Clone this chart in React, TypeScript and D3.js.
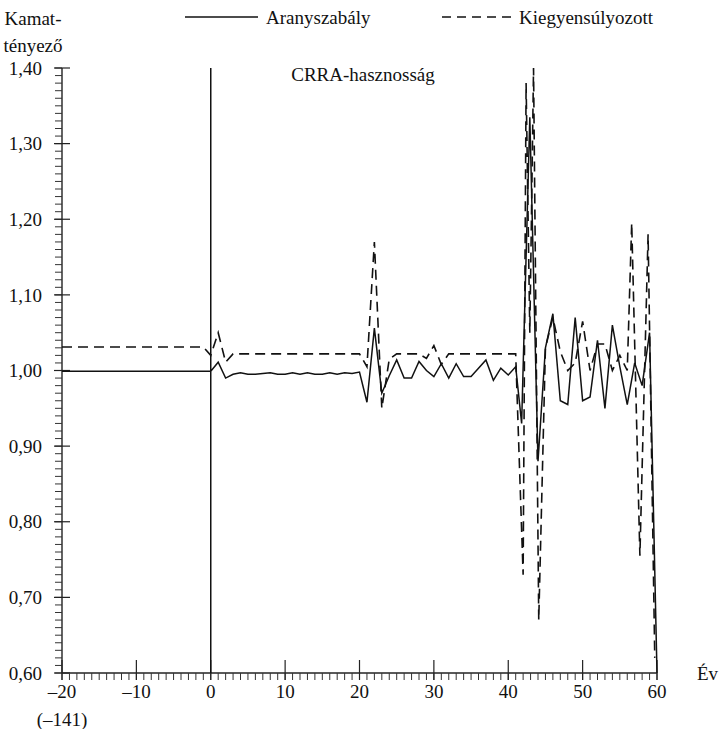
import React from "react";
import * as d3 from "d3";

const W = 725;
const H = 729;

// Aranyszabály (solid)
const solidYears = [
  -20, -1, 0, 0, 0, 0, 1, 2, 3, 4, 5, 6, 7, 8, 9, 10, 11, 12, 13, 14, 15, 16, 17, 18, 19,
  20, 21, 22, 23, 24, 25, 26, 27, 28, 29, 30, 31, 32, 33, 34, 35, 36, 37, 38, 39, 40, 41,
  41.8, 42.9, 44, 45, 46, 47, 48, 49, 50, 51, 52, 53, 54, 55, 56, 57, 58, 59, 60,
];
const solidValues = [
  0.999, 0.999, 0.999, 1.4, 0.6, 0.999, 1.011, 0.99, 0.995, 0.997, 0.995, 0.995, 0.996, 0.997, 0.995,
  0.995, 0.997, 0.995, 0.997, 0.995, 0.995, 0.997, 0.995, 0.997, 0.996,
  0.998, 0.958, 1.056, 0.97, 0.993, 1.014, 0.99, 0.99, 1.012, 1.0, 0.992, 1.009, 0.99, 1.009,
  0.992, 0.992, 1.003, 1.014, 0.987, 1.003, 0.994, 1.005,
  0.93, 1.335, 0.88, 1.03, 1.075, 0.96, 0.955, 1.07, 0.96, 0.965, 1.04, 0.95, 1.06, 1.005,
  0.955, 1.01, 0.98, 1.05, 0.6,
];

// Kiegyensúlyozott (dashed)
const dashedYears = [
  -20, -1, 0, 1, 2, 3, 19, 20, 21, 22, 23, 24, 25, 28, 29, 30, 31, 32, 41,
  42, 42.4, 42.9, 43.4, 44.1, 45, 46, 47, 48, 49, 50, 51, 52, 53, 54, 55, 56,
  56.6, 57.7, 58.8, 59.7,
];
const dashedValues = [
  1.031, 1.031, 1.02, 1.05, 1.011, 1.022, 1.022, 1.022, 1.005, 1.17, 0.95, 1.015, 1.022, 1.022,
  1.016, 1.033, 1.008, 1.022, 1.022,
  0.73, 1.38, 1.05, 1.4, 0.67, 1.03, 1.07, 1.025, 1.0, 1.01, 1.065, 1.0, 1.035, 1.035, 1.0,
  1.02, 1.0, 1.195, 0.755, 1.18, 0.62,
];

const yMajorTicks = [0.6, 0.7, 0.8, 0.9, 1.0, 1.1, 1.2, 1.3, 1.4];
const xMajorTicks = [-20, -10, 0, 10, 20, 30, 40, 50, 60];

const FONT = "'Liberation Serif', 'DejaVu Serif', serif";

export default function App() {
  const left = 62, right = 657, top = 68, bottom = 673;
  const x = d3.scaleLinear().domain([-20, 60]).range([left, right]);
  const y = d3.scaleLinear().domain([0.6, 1.4]).range([bottom, top]);

  const line = d3
    .line<[number, number]>()
    .x((d) => x(d[0]))
    .y((d) => y(d[1]));

  const solidPts = solidYears.map((t, i) => [t, solidValues[i]] as [number, number]);
  const dashedPts = dashedYears.map((t, i) => [t, dashedValues[i]] as [number, number]);

  const yMinor = d3.range(60, 141).map((v) => v / 100);
  const xMinor = d3.range(-20, 61);

  const fmt = (v: number) => v.toFixed(2).replace(".", ",");
  const xfmt = (v: number) => (v < 0 ? "–" + Math.abs(v) : String(v));

  return (
    <svg
      width={W}
      height={H}
      style={{ position: "absolute", left: 0, top: 0, background: "#fff" }}
      fontFamily={FONT}
    >
      <defs>
        <clipPath id="plot">
          <rect x={left} y={top} width={right - left + 1} height={bottom - top} />
        </clipPath>
      </defs>
      <rect x={0} y={0} width={W} height={H} fill="#fff" />

      {/* y axis */}
      <line x1={left} x2={left} y1={top} y2={bottom} stroke="#222" strokeWidth={1.4} />
      {yMinor.map((v) => (
        <line key={"ym" + v} x1={left - 7} x2={left} y1={y(v)} y2={y(v)} stroke="#333" strokeWidth={1} />
      ))}
      {yMajorTicks.map((v) => (
        <g key={"yM" + v}>
          <line x1={left - 8} x2={left + 8} y1={y(v)} y2={y(v)} stroke="#222" strokeWidth={1.2} />
          <text x={42} y={y(v)} dy="0.35em" textAnchor="end" fontSize={19} fill="#111">
            {fmt(v)}
          </text>
        </g>
      ))}

      {/* x axis */}
      <line x1={left} x2={right} y1={bottom} y2={bottom} stroke="#222" strokeWidth={1.4} />
      {xMinor.map((v) => (
        <line key={"xm" + v} x1={x(v)} x2={x(v)} y1={bottom} y2={bottom + 7} stroke="#333" strokeWidth={1} />
      ))}
      {xMajorTicks.map((v) => (
        <g key={"xM" + v}>
          <line x1={x(v)} x2={x(v)} y1={bottom - 13} y2={bottom + 7} stroke="#222" strokeWidth={1.2} />
          <text x={x(v)} y={698} textAnchor="middle" fontSize={19} fill="#111">
            {xfmt(v)}
          </text>
        </g>
      ))}
      <text x={x(-20)} y={726} textAnchor="middle" fontSize={19} fill="#111">
        (–141)
      </text>
      <text x={697} y={680} fontSize={19} fill="#111">
        Év
      </text>

      {/* y title */}
      <text x={33} y={25} textAnchor="middle" fontSize={19} fill="#111">
        Kamat-
      </text>
      <text x={33} y={52} textAnchor="middle" fontSize={19} fill="#111">
        tényező
      </text>

      {/* legend */}
      <line x1={185} x2={258} y1={17} y2={17} stroke="#111" strokeWidth={1.5} />
      <text x={266} y={24} fontSize={19} fill="#111">
        Aranyszabály
      </text>
      <line x1={442} x2={512} y1={17} y2={17} stroke="#111" strokeWidth={1.5} strokeDasharray="9,6" />
      <text x={519} y={24} fontSize={19} fill="#111">
        Kiegyensúlyozott
      </text>

      {/* title */}
      <text x={363} y={81} textAnchor="middle" fontSize={19} fill="#111">
        CRRA-hasznosság
      </text>

      {/* series */}
      <g clipPath="url(#plot)">
        <path d={line(dashedPts) || ""} fill="none" stroke="#111" strokeWidth={1.6} strokeDasharray="10,6" />
        <path d={line(solidPts) || ""} fill="none" stroke="#111" strokeWidth={1.5} />
      </g>
    </svg>
  );
}
